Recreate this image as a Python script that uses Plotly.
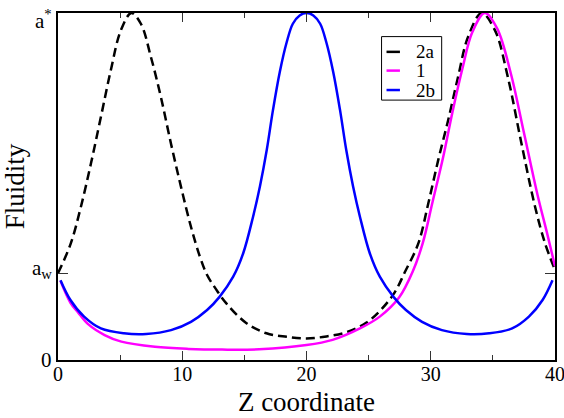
import plotly.graph_objects as go

# Series 2a (dashed black)
x_2a = [0, 1.03, 1.84, 2.65, 3.45, 4.25, 5.06, 5.9, 6.67, 7.48, 8.28, 9.09, 9.9, 10.7,
        11.4, 12.0, 12.7, 13.55, 15.17, 16.78, 18.4, 20.0,
        21.6, 23.22, 24.83, 26.0, 27.1, 27.9, 29.0, 29.8, 30.6, 31.4, 32.2, 33.0,
        34.1, 35.17, 36.2, 37.3, 38.4, 39.2, 40.0]
y_2a = [0.25, 0.336, 0.441, 0.566, 0.70, 0.835, 0.95, 1.0, 0.969, 0.873, 0.758, 0.624,
        0.499, 0.384, 0.30, 0.245, 0.205, 0.163, 0.106, 0.077, 0.067, 0.062,
        0.068, 0.080, 0.108, 0.145, 0.195, 0.252, 0.336, 0.451, 0.576, 0.691, 0.816,
        0.931, 1.0, 0.95, 0.816, 0.624, 0.441, 0.336, 0.26]

# Series 1 (magenta)
x_1 = [0.2, 1.0, 1.6, 2.4, 3.75, 5.1, 7.8, 10.5, 13.2, 16.2, 20.0, 22.1, 24.3, 25.9,
       27.45, 28.55, 29.35, 30.15, 31.0, 31.75, 32.55, 33.35, 34.35, 35.35, 36.45,
       37.5, 38.6, 39.4, 40.0]
y_1 = [0.228, 0.165, 0.138, 0.104, 0.072, 0.053, 0.038, 0.032, 0.030, 0.031, 0.043,
       0.058, 0.091, 0.125, 0.18, 0.255, 0.336, 0.456, 0.585, 0.715, 0.84, 0.945, 1.0,
       0.955, 0.825, 0.655, 0.475, 0.36, 0.27]

# Series 2b (blue)
x_2b = [0.2, 1.0, 2.1, 3.45, 5.3, 7.1, 9.1, 10.7, 12.0, 13.0, 14.1, 14.9, 15.7, 16.25,
        16.8, 17.3, 17.85, 18.4, 18.9, 19.45, 20.0,
        20.55, 21.1, 21.6, 22.15, 22.7, 23.2, 23.75, 24.3, 25.1, 25.9, 27.0, 28.0,
        29.3, 30.9, 32.9, 34.7, 36.55, 37.9, 39.0, 39.8]
y_2b = [0.23, 0.173, 0.125, 0.091, 0.077, 0.075, 0.086, 0.110, 0.144, 0.182, 0.24,
        0.307, 0.413, 0.50, 0.605, 0.72, 0.83, 0.915, 0.969, 0.993, 1.0,
        0.993, 0.969, 0.915, 0.83, 0.72, 0.605, 0.50, 0.413, 0.307, 0.24, 0.182,
        0.144, 0.110, 0.086, 0.075, 0.077, 0.091, 0.125, 0.173, 0.23]

series_names = ["2a", "1", "2b"]
series_colors = ["black", "#ff00ff", "#0000ff"]
series_dash = ["9px,5px", "solid", "solid"]

y_tickvals = [0, 0.25, 1.0]
y_ticklabels = ["0", "a<sub>w</sub>", "a<sup>*</sup>"]
x_tickvals = [0, 10, 20, 30, 40]

FONT = "Liberation Serif"

fig = go.Figure()
for xs, ys, nm, col, dsh in zip([x_2a, x_1, x_2b], [y_2a, y_1, y_2b],
                                series_names, series_colors, series_dash):
    fig.add_trace(go.Scatter(x=xs, y=ys, mode="lines", name=nm,
                             line=dict(color=col, width=2.5, dash=dsh,
                                       shape="spline", smoothing=1.0)))

axis_common = dict(showgrid=False, zeroline=False, showline=True, linecolor="black",
                   linewidth=2, mirror="ticks", ticks="inside", tickcolor="#333",
                   tickwidth=1, tickfont=dict(family=FONT, size=20, color="black"))

fig.update_xaxes(range=[0, 40], tickvals=x_tickvals, ticklen=9,
                 ticklabeloverflow="allow", ticklabelstandoff=-5,
                 minor=dict(ticks="inside", ticklen=5, dtick=5, tick0=0, tickcolor="#333"),
                 title=dict(text="Z coordinate", font=dict(family=FONT, size=27, color="black"),
                            standoff=8),
                 **axis_common)
fig.update_yaxes(range=[0, 1.0], tickvals=y_tickvals, ticktext=["", "", ""], ticklen=10,
                 title=dict(text="Fluidity", font=dict(family=FONT, size=27, color="black"),
                            standoff=28),
                 **axis_common)

# y tick labels as annotations (to place the super/subscripts like the original)
label_shift = [0, 4, -6]
for v, t, s in zip(y_tickvals, y_ticklabels, label_shift):
    fig.add_annotation(x=0, xref="paper", y=v, yref="y", text=t, showarrow=False,
                       xanchor="right", yanchor="middle", xshift=-4, yshift=s,
                       font=dict(family=FONT, size=21, color="black"))

# legend box drawn in paper coordinates
lx0, lx1, ly0, ly1 = 0.651, 0.772, 0.749, 0.932
fig.add_shape(type="rect", xref="paper", yref="paper", x0=lx0, x1=lx1, y0=ly0, y1=ly1,
              line=dict(color="black", width=1), fillcolor="white", layer="above")
leg_y = [0.888, 0.834, 0.778]
for nm, col, dsh, yy in zip(series_names, series_colors, series_dash, leg_y):
    fig.add_shape(type="line", xref="paper", yref="paper", x0=0.661, x1=0.688, y0=yy, y1=yy,
                  line=dict(color=col, width=2.5, dash="solid"), layer="above")
    fig.add_annotation(x=0.716, xref="paper", y=yy, yref="paper", text=nm, showarrow=False,
                       xanchor="left", yanchor="middle",
                       font=dict(family=FONT, size=19, color="black"))

fig.update_layout(
    width=564, height=418,
    margin=dict(l=58, r=9, t=13, b=58, autoexpand=False),
    plot_bgcolor="white", paper_bgcolor="white",
    showlegend=False,
)

fig.write_html("out.html")
